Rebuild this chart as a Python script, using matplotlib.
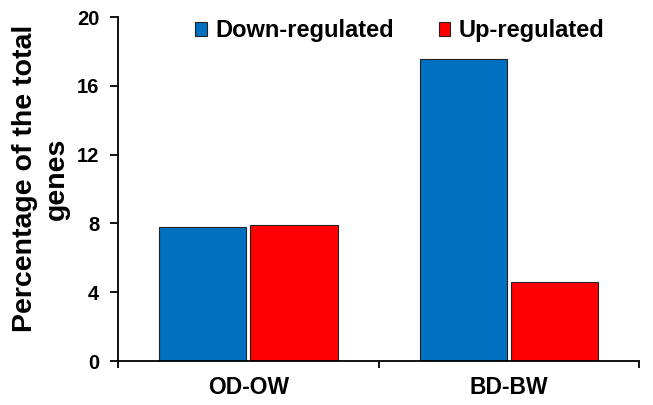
import numpy as np
import matplotlib
matplotlib.use("Agg")
from matplotlib import pyplot as plt
from matplotlib.patches import Patch

categories = ["OD-OW", "BD-BW"]
down = [7.77, 17.58]
up = [7.89, 4.59]

plt.rcParams['font.family'] = ['Liberation Sans', 'DejaVu Sans']
plt.rcParams['font.weight'] = 'bold'

fig = plt.figure(figsize=(6.53, 4.05), dpi=100)
ax = fig.add_axes([0.1807, 0.1086, 0.798, 0.849])

x = np.arange(len(categories))
w = 0.335
ax.bar(x - 0.175, down, w, color='#0070C0', edgecolor='#222222', linewidth=0.8, label='Down-regulated')
ax.bar(x + 0.175, up, w, color='#FF0000', edgecolor='#222222', linewidth=0.8, label='Up-regulated')

ax.set_xlim(-0.5, 1.5)
ax.set_ylim(0, 20)
ax.set_yticks([0, 4, 8, 12, 16, 20])
ax.set_xticks(x)
ax.set_xticklabels(categories, fontsize=16.5, fontweight='bold')
ax.set_xticks([-0.5, 0.5, 1.5], minor=True)
ax.tick_params(axis='x', which='major', length=0, pad=11)
ax.tick_params(axis='x', which='minor', length=5, width=1.3, direction='out')
ax.tick_params(axis='y', length=5.5, width=1.3, labelsize=14.5, direction='out', pad=8)
for lab in ax.get_yticklabels():
    lab.set_fontweight('bold')

for s in ['top', 'right']:
    ax.spines[s].set_visible(False)
for s in ['left', 'bottom']:
    ax.spines[s].set_linewidth(1.3)

ax.set_ylabel('Percentage of the total\ngenes', fontsize=20.5, fontweight='bold', linespacing=1.3)
ax.yaxis.set_label_coords(-0.092, 0.53)

handles = [Patch(facecolor='#0070C0', edgecolor='#222222', linewidth=0.8),
           Patch(facecolor='#FF0000', edgecolor='#222222', linewidth=0.8)]
fig.legend(handles, ['Down-regulated', 'Up-regulated'], ncol=2, loc='center left',
           bbox_to_anchor=(195 / 653, 1 - 31 / 405), bbox_transform=fig.transFigure,
           frameon=False, fontsize=17, borderpad=0, borderaxespad=0,
           handlelength=0.5, handleheight=0.5, handletextpad=0.35, columnspacing=1.9)

fig.savefig('out.png', dpi=100)
